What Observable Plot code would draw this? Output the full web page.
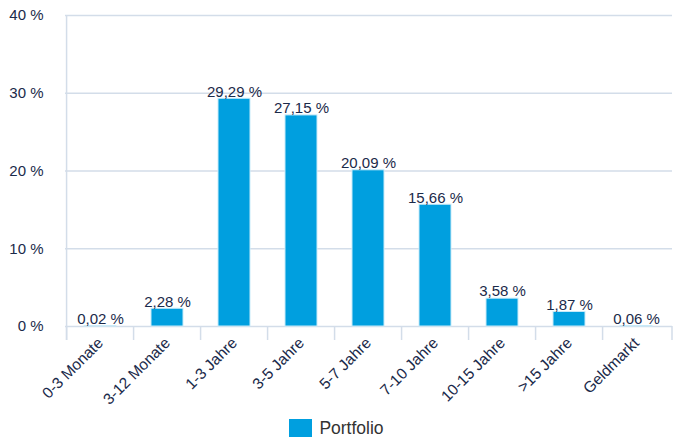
<!DOCTYPE html>
<html>
<head>
<meta charset="utf-8">
<script src="https://cdn.jsdelivr.net/npm/d3@7"></script>
<script src="https://cdn.jsdelivr.net/npm/@observablehq/plot@0.6"></script>
<style>
  html, body { margin: 0; padding: 0; background: #fff; }
  body { width: 673px; font-family: "Liberation Sans", Arial, sans-serif; }
  #legend { display: flex; justify-content: center; align-items: center; height: 30px; margin-top: 3px; color: #333; font-size: 17.5px; }
  #legend .sw { width: 23px; height: 18px; background: #009fdf; margin-right: 7px; }
</style>
</head>
<body>
<div id="chart"></div>
<div id="legend"><span class="sw"></span><span>Portfolio</span></div>
<script>
const categories = ["0-3 Monate", "3-12 Monate", "1-3 Jahre", "3-5 Jahre", "5-7 Jahre", "7-10 Jahre", "10-15 Jahre", ">15 Jahre", "Geldmarkt"];
const values = [0.02, 2.28, 29.29, 27.15, 20.09, 15.66, 3.58, 1.87, 0.06];
const yTicks = [0, 10, 20, 30, 40];

const data = categories.map((c, i) => ({cat: c, v: values[i]}));
const fmt = v => v.toFixed(2).replace(".", ",") + " %";
const textColor = "#1b2a4a";
const gridColor = "#d3dde9";

const chart = Plot.plot({
  width: 673,
  height: 410,
  marginLeft: 65,
  marginRight: 1,
  marginTop: 15,
  marginBottom: 84,
  style: {fontFamily: "Liberation Sans, Arial, sans-serif", fontSize: "14px", color: textColor, background: "#fff"},
  x: {domain: categories, paddingInner: 0.52, paddingOuter: 0.26, label: null},
  y: {domain: [0, 40], label: null},
  marks: [
    Plot.ruleY(yTicks, {stroke: gridColor, strokeWidth: 1.5}),
    Plot.axisY(yTicks, {tickSize: 0, tickPadding: 22, tickFormat: d => d + " %", fontSize: 15, fill: textColor}),
    Plot.axisX({tickSize: 0, tickPadding: 14, tickRotate: -45, fontSize: 15.5, fill: textColor}),
    Plot.barY(data, {x: "cat", y: "v", fill: "#009fdf", stroke: "#c8ebf9", strokeWidth: 1}),
    Plot.text(data, {x: "cat", y: "v", text: d => fmt(d.v), dy: -7, fontSize: 15, fill: textColor})
  ]
});

document.getElementById("chart").appendChild(chart);

// band-boundary tick marks and the vertical axis line, positioned with Plot's scales
const xs = chart.scale("x");
const ys = chart.scale("y");
const step = xs.step;
const gap = step * 0.52;
const y0 = ys.apply(0);
const yTop = ys.apply(40);
const bounds = categories.map(c => xs.apply(c) - gap / 2);
bounds.push(xs.range[1]);
const svg = d3.select(chart);
const g = svg.append("g").attr("stroke", gridColor).attr("stroke-width", 1.5);
bounds.forEach(x => {
  g.append("line").attr("x1", x).attr("x2", x).attr("y1", y0).attr("y2", y0 + 14);
});
g.append("line").attr("x1", bounds[0]).attr("x2", bounds[0]).attr("y1", yTop).attr("y2", y0 + 14);
</script>
</body>
</html>
